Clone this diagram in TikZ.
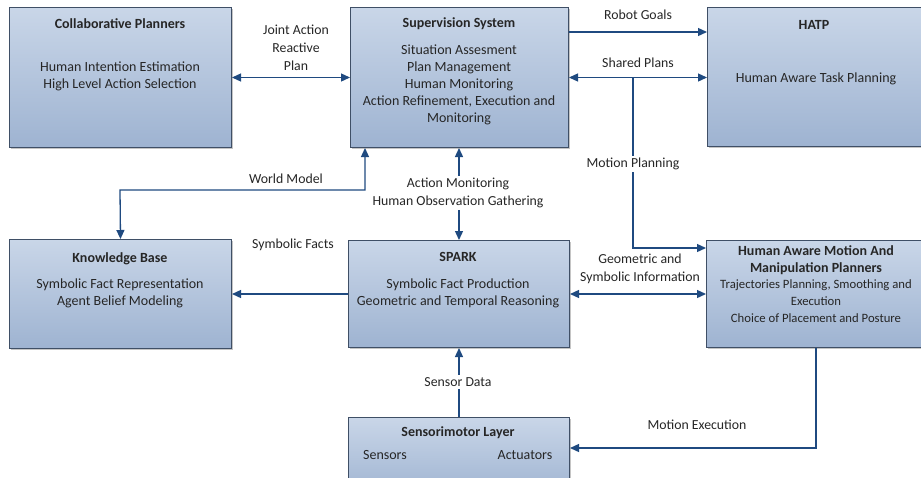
\documentclass[tikz,border=0pt]{standalone}
\usepackage{fontspec}
\setmainfont{Carlito}
\usetikzlibrary{arrows.meta,shadows,calc}
\definecolor{boxtop}{HTML}{C9D6E8}
\definecolor{boxbot}{HTML}{9EB3D1}
\definecolor{boxline}{HTML}{3F4F66}
\definecolor{arrowc}{HTML}{1F4A80}
\definecolor{txt}{HTML}{262626}
\tikzset{
  blk/.style={draw=boxline, line width=1pt, top color=boxtop, bottom color=boxbot,
    drop shadow={shadow xshift=1.5pt, shadow yshift=-1.5pt, opacity=.45},
    inner sep=0pt, anchor=north west},
  tip/.tip={Triangle[length=9pt,width=8pt]},
  conn/.style={draw=arrowc, line width=1.3pt, arrows={-tip}},
  conn2/.style={draw=arrowc, line width=1.3pt, arrows={tip-tip}},
  ttl/.style={font=\fontsize{14}{17}\selectfont\bfseries, text=txt, align=center, inner sep=1pt},
  bdy/.style={font=\fontsize{14}{17}\selectfont, text=txt, align=center, inner sep=1pt},
  bdys/.style={font=\fontsize{12.7}{17}\selectfont, text=txt, align=center, inner sep=1pt},
  lbl/.style={font=\fontsize{13.8}{18}\selectfont, text=txt, align=center, inner sep=2pt},
  lblw/.style={lbl, fill=white},
}
\begin{document}
\begin{tikzpicture}[x=1pt,y=-1pt]
\clip (0,0) rectangle (921,477);
\fill[white] (0,0) rectangle (921,477);
% boxes
\node[blk, minimum width=222pt, minimum height=140pt] (cp) at (9,7) {};
\node[blk, minimum width=218pt, minimum height=140pt] (ss) at (350,7) {};
\node[blk, minimum width=226pt, minimum height=139pt] (hatp) at (707,7) {};
\node[blk, minimum width=222pt, minimum height=109pt] (kb) at (9,239) {};
\node[blk, minimum width=221pt, minimum height=107pt] (spark) at (348,240) {};
\node[blk, minimum width=226pt, minimum height=107pt] (hamp) at (706,240) {};
\node[blk, minimum width=221pt, minimum height=80pt] (sm) at (348,417) {};
% box texts
\node[ttl] (cpt) at (120,24) {Collaborative Planners};
\node[bdy] (cpb) at (120,76.5) {Human Intention Estimation\\High Level Action Selection};
\node[ttl] (sst) at (459,24) {Supervision System};
\node[bdy] (ssb) at (459,84.5) {Situation Assesment\\Plan Management\\Human Monitoring\\Action Refinement, Execution and\\Monitoring};
\node[ttl] (hatpt) at (814,25) {HATP};
\node[bdy] (hatpb) at (816,79) {Human Aware Task Planning};
\node[ttl] (kbt) at (120,259) {Knowledge Base};
\node[bdy] (kbb) at (120,293.5) {Symbolic Fact Representation\\Agent Belief Modeling};
\node[ttl] (spt) at (458,257) {SPARK};
\node[bdy] (spb) at (458,293.5) {Symbolic Fact Production\\Geometric and Temporal Reasoning};
\node[ttl] (hamt) at (816,260.5) {Human Aware Motion And\\Manipulation Planners};
\node[bdys] (hamb) at (816,301.5) {Trajectories Planning, Smoothing and\\Execution\\Choice of Placement and Posture};
\node[ttl] (smt) at (458,433) {Sensorimotor Layer};
\node[bdy] (sms) at (385,455) {Sensors};
\node[bdy] (sma) at (525,455) {Actuators};
% waypoints
\coordinate (rg) at (0,32);
\coordinate (mp1) at (633,77);
\coordinate (mp2) at (633,248);
\coordinate (wm1) at (120,190);
\coordinate (wm2) at (365,190);
\coordinate (me1) at (816,448);
% connectors
\draw[conn2] (cp.east) -- (ss.west);
\draw[conn] (ss.east |- rg) -- (hatp.west |- rg);
\draw[conn2] (ss.east) -- (hatp.west |- ss.east);
\draw[conn] (mp1) -- (mp2) -- (hamp.west |- mp2);
\draw[conn2] (kb.north) -- (wm1) -- (wm2) -- (ss.south -| wm2);
\draw[conn2] (spark.north) -- (ss.south -| spark.north);
\draw[conn] (spark.west) -- (kb.east |- spark.west);
\draw[conn2] (spark.east) -- (hamp.west |- spark.east);
\draw[conn] (sm.north -| spark.south) -- (spark.south);
\draw[conn] (hamp.south -| me1) -- (me1) -- (sm.east |- me1);
% labels
\node[lbl] (l1) at (296,48) {Joint Action\\Reactive\\Plan};
\node[lbl] (l2) at (638,15) {Robot Goals};
\node[lbl] (l3) at (638,63) {Shared Plans};
\node[lblw] (l4) at (633,164) {Motion Planning};
\node[lbl] (l5) at (286,179) {World Model};
\node[lblw] (l6) at (458,193) {Action Monitoring\\Human Observation Gathering};
\node[lbl] (l7) at (293,245) {Symbolic Facts};
\node[lbl] (l8) at (640,269) {Geometric and\\Symbolic Information};
\node[lblw] (l9) at (458,382) {Sensor Data};
\node[lbl] (l10) at (697,425) {Motion Execution};
\end{tikzpicture}
\end{document}
